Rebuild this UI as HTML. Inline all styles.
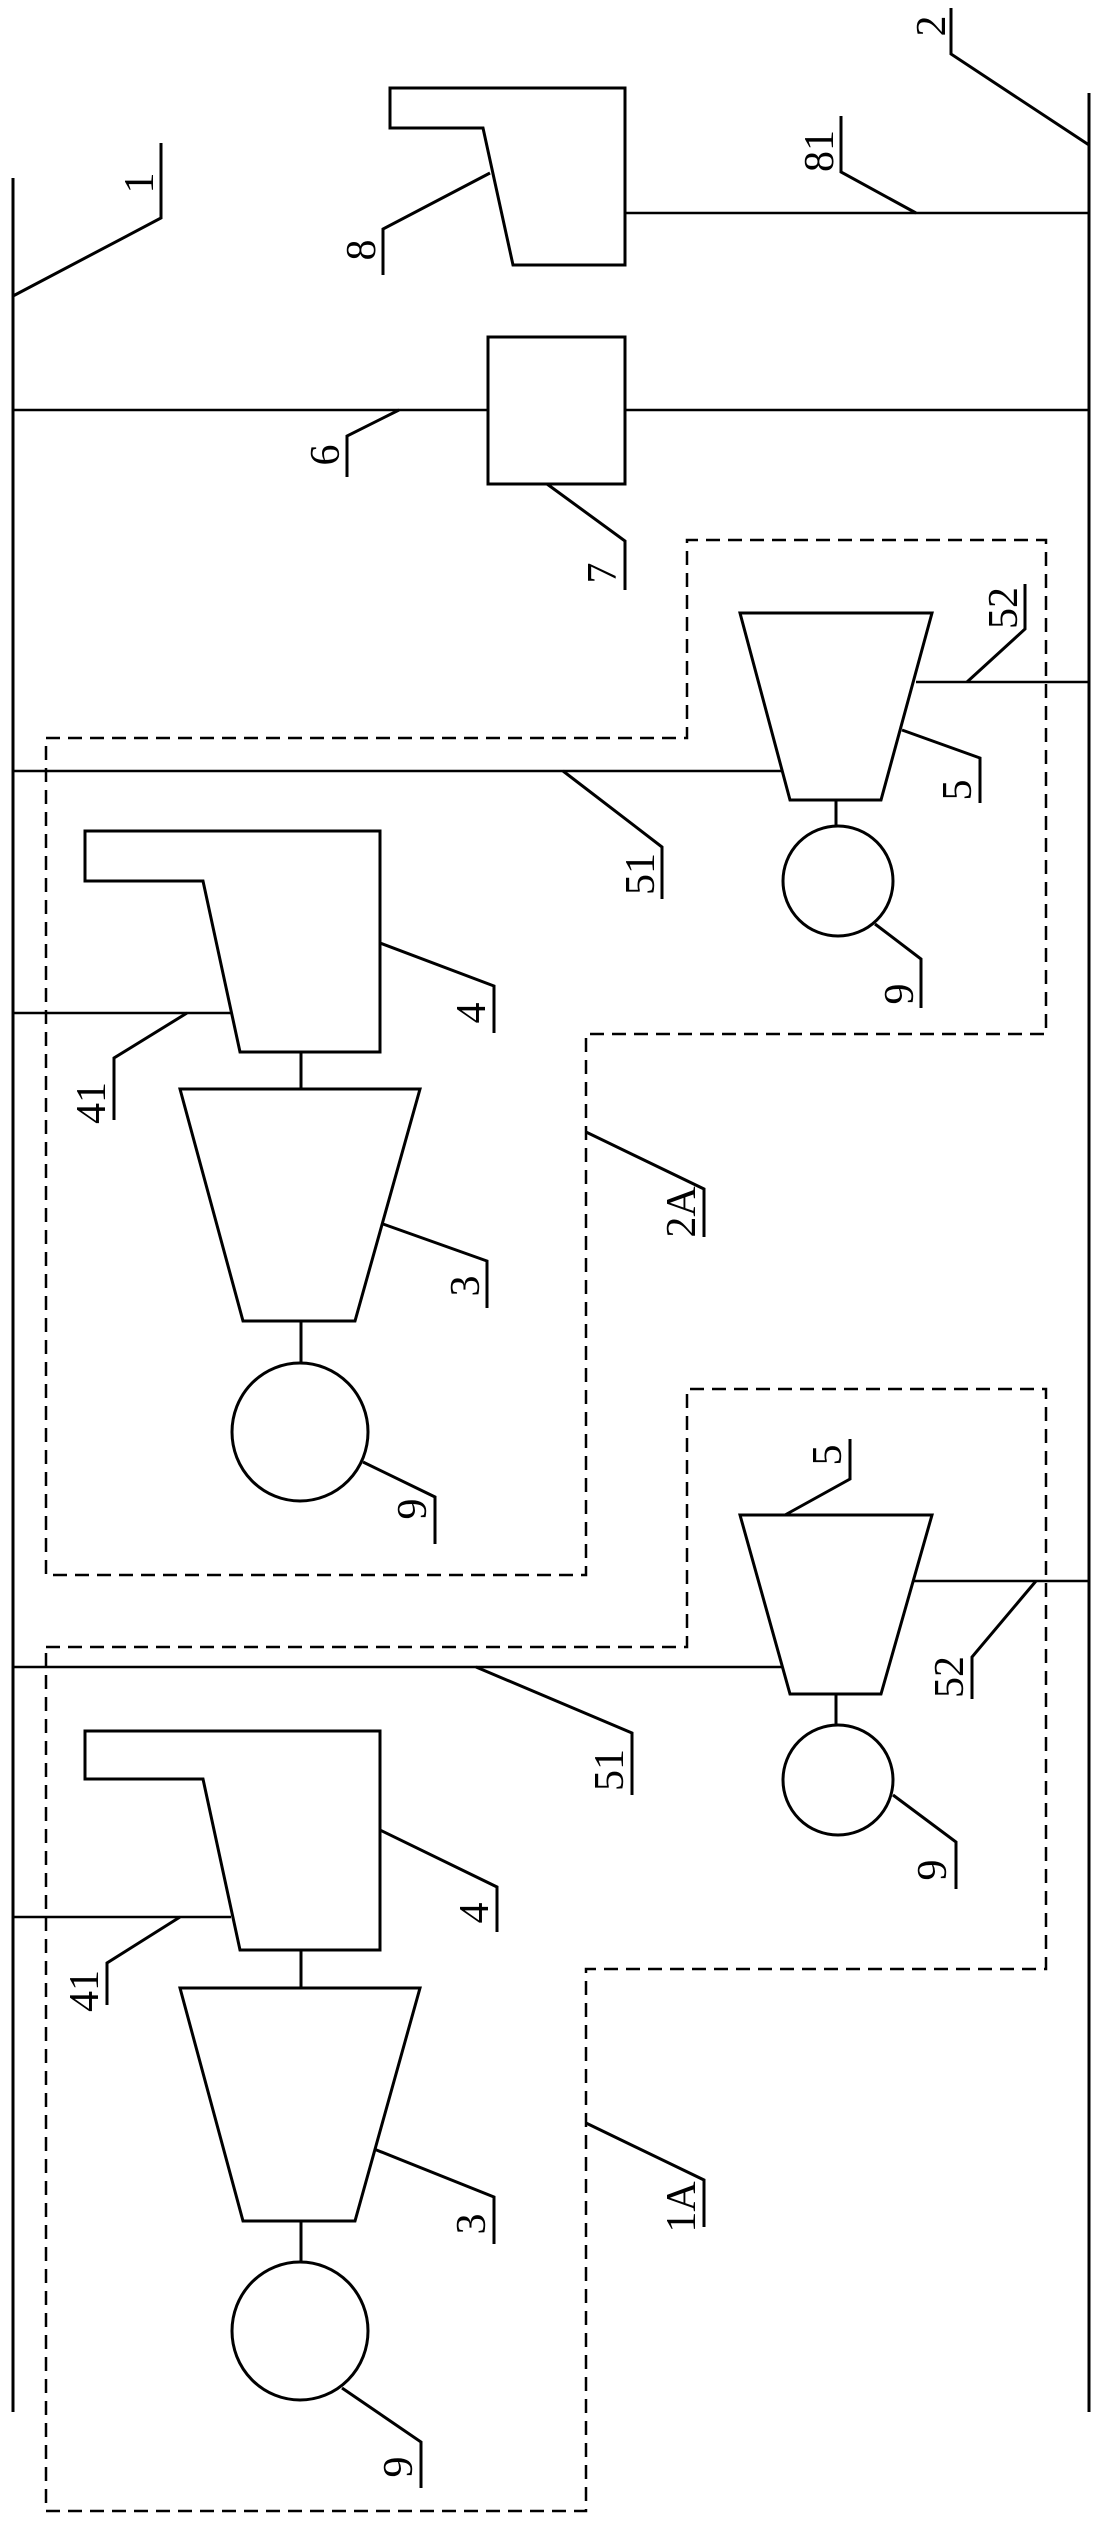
<!DOCTYPE html>
<html><head><meta charset="utf-8"><style>html,body{margin:0;padding:0;background:#fff}svg{display:block}</style></head>
<body>
<svg width="1101" height="2522" viewBox="0 0 1101 2522" xmlns="http://www.w3.org/2000/svg">
<g fill="none" stroke="#000" stroke-width="3">
<!-- buses -->
<line x1="13" y1="178" x2="13" y2="2412"/>
<line x1="1089" y1="93" x2="1089" y2="2412"/>
<!-- component 8 -->
<polygon points="390,88 625,88 625,265 513,265 483,128 390,128"/>
<line x1="625" y1="213" x2="1089" y2="213" stroke-width="2.5"/>
<!-- line 6 and box 7 -->
<line x1="13" y1="410" x2="488" y2="410" stroke-width="2.5"/>
<line x1="625" y1="410" x2="1089" y2="410" stroke-width="2.5"/>
<rect x="488" y="337" width="137" height="147"/>
<!-- upper unit -->
<polygon points="740,613 932,613 881,800 790,800"/>
<line x1="916" y1="682" x2="1089" y2="682" stroke-width="2.5"/>
<line x1="13" y1="771" x2="782" y2="771" stroke-width="2.5"/>
<line x1="836" y1="800" x2="836" y2="827"/>
<circle cx="838" cy="881" r="55"/>
<polygon points="85,831 380,831 380,1052 240,1052 203,881 85,881"/>
<line x1="13" y1="1013" x2="231" y2="1013" stroke-width="2.5"/>
<line x1="301" y1="1052" x2="301" y2="1089"/>
<polygon points="180,1089 420,1089 355,1321 243,1321"/>
<line x1="301" y1="1321" x2="301" y2="1363"/>
<ellipse cx="300" cy="1432" rx="68" ry="69"/>
<!-- lower unit -->
<polygon points="740,1515 932,1515 881,1694 790,1694"/>
<line x1="913" y1="1581" x2="1089" y2="1581" stroke-width="2.5"/>
<line x1="13" y1="1667" x2="782" y2="1667" stroke-width="2.5"/>
<line x1="836" y1="1694" x2="836" y2="1726"/>
<circle cx="838" cy="1780" r="55"/>
<polygon points="85,1731 380,1731 380,1950 240,1950 203,1779 85,1779"/>
<line x1="13" y1="1917" x2="231" y2="1917" stroke-width="2.5"/>
<line x1="301" y1="1950" x2="301" y2="1988"/>
<polygon points="180,1988 420,1988 355,2221 243,2221"/>
<line x1="301" y1="2221" x2="301" y2="2262"/>
<ellipse cx="300" cy="2331" rx="68" ry="69"/>
</g>
<!-- dashed boxes -->
<g fill="none" stroke="#000" stroke-width="2.5" stroke-dasharray="14,8">
<polyline points="46,738 687,738 687,540 1046,540 1046,1034 586,1034 586,1575 46,1575 46,738"/>
<polyline points="46,1647 687,1647 687,1389 1046,1389 1046,1969 586,1969 586,2511 46,2511 46,1647"/>
</g>
<!-- leaders -->
<g fill="none" stroke="#000" stroke-width="3">
<polyline points="13,296 161,218 161,143"/>
<polyline points="1089,145 951,54 951,8"/>
<polyline points="490,173 383,229 383,275"/>
<polyline points="916,213 841,172 841,116"/>
<polyline points="399,410 347,436 347,477"/>
<polyline points="547,484 625,541 625,590"/>
<polyline points="967,682 1025,629 1025,584"/>
<polyline points="902,730 980,758 980,803"/>
<polyline points="563,771 662,847 662,899"/>
<polyline points="875,924 921,959 921,1008"/>
<polyline points="187,1013 114,1058 114,1120"/>
<polyline points="380,943 494,986 494,1033"/>
<polyline points="383,1224 487,1261 487,1308"/>
<polyline points="363,1462 435,1497 435,1544"/>
<polyline points="586,1132 704,1189 704,1237"/>
<polyline points="785,1515 850,1479 850,1439"/>
<polyline points="1036,1581 972,1657 972,1699"/>
<polyline points="476,1667 632,1733 632,1795"/>
<polyline points="893,1795 956,1842 956,1889"/>
<polyline points="180,1917 107,1963 107,2005"/>
<polyline points="380,1830 497,1887 497,1932"/>
<polyline points="374,2149 494,2197 494,2244"/>
<polyline points="342,2388 421,2442 421,2488"/>
<polyline points="586,2123 704,2180 704,2227"/>
</g>
<g font-family="Liberation Serif, serif" font-size="42" fill="#000" text-anchor="middle" dominant-baseline="central">
<text transform="translate(140,183) rotate(-90)">1</text>
<text transform="translate(932,26) rotate(-90)">2</text>
<text transform="translate(362,250) rotate(-90)">8</text>
<text transform="translate(820,151) rotate(-90)">81</text>
<text transform="translate(326,455) rotate(-90)">6</text>
<text transform="translate(603,573) rotate(-90)">7</text>
<text transform="translate(1004,608) rotate(-90)">52</text>
<text transform="translate(958,790) rotate(-90)">5</text>
<text transform="translate(641,874) rotate(-90)">51</text>
<text transform="translate(900,994) rotate(-90)">9</text>
<text transform="translate(92,1103) rotate(-90)">41</text>
<text transform="translate(472,1013) rotate(-90)">4</text>
<text transform="translate(466,1286) rotate(-90)">3</text>
<text transform="translate(413,1509) rotate(-90)">9</text>
<text transform="translate(682,1212) rotate(-90)">2A</text>
<text transform="translate(828,1455) rotate(-90)">5</text>
<text transform="translate(950,1677) rotate(-90)">52</text>
<text transform="translate(610,1770) rotate(-90)">51</text>
<text transform="translate(933,1870) rotate(-90)">9</text>
<text transform="translate(85,1991) rotate(-90)">41</text>
<text transform="translate(475,1913) rotate(-90)">4</text>
<text transform="translate(472,2224) rotate(-90)">3</text>
<text transform="translate(399,2467) rotate(-90)">9</text>
<text transform="translate(682,2207) rotate(-90)">1A</text>
</g>
</svg>
</body></html>
